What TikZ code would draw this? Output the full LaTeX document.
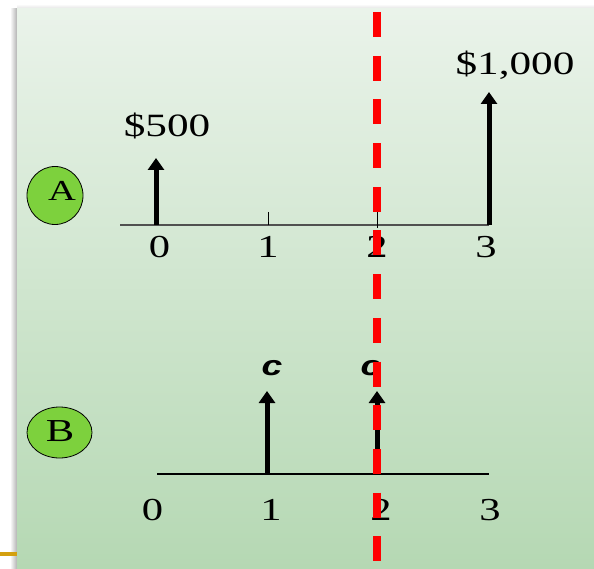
\documentclass[tikz,border=0pt]{standalone}
\usepackage{fontspec}
\usetikzlibrary{arrows.meta,shapes.geometric}
\newfontfamily\serifw[FakeStretch=1.33]{Liberation Serif}
\newfontfamily\sansw[FakeStretch=1.33]{Liberation Sans}
\definecolor{panelTop}{HTML}{EAF3EA}
\definecolor{panelBot}{HTML}{B5D8B3}
\definecolor{badge}{HTML}{7DD13D}
\definecolor{gold}{HTML}{D4A010}
\definecolor{axisA}{HTML}{505050}
\tikzset{
  cf/.style={line width=5pt, -{Triangle[width=16pt,length=12pt]}},
  num/.style={anchor=base, inner sep=0pt, font=\serifw\fontsize{32}{34}\selectfont},
  money/.style={anchor=base, inner sep=0pt, font=\serifw\fontsize{32.5}{36}\selectfont},
  clab/.style={anchor=base, inner sep=0pt, font=\sansw\bfseries\itshape\fontsize{28}{30}\selectfont},
  badgeA/.style={ellipse, draw=black, line width=0.8pt, fill=badge, inner sep=0pt},
  tick/.style={line width=1pt, black},
  redline/.style={draw=red, line width=8pt, dash pattern=on 25pt off 18.7pt}
}
\begin{document}
\begin{tikzpicture}[x=1pt,y=-1pt]
\useasboundingbox (0,0) rectangle (594,569);
% background
\fill[white] (0,0) rectangle (594,569);
\shade[left color=white, right color=black!30] (10,9) rectangle (17,569);
\shade[top color=white, bottom color=black!12] (17,4) rectangle (594,9);
\shade[top color=panelTop, bottom color=panelBot] (17,9) rectangle (594,569);
\fill[gold] (0,552) rectangle (17,556);
% badges
\node[badgeA, minimum width=56pt, minimum height=58pt] (A) at (55,195.5) {};
\node[anchor=base, inner sep=0pt, font=\serifw\fontsize{29}{31}\selectfont] (Alab) at (62,201) {A};
\node[badgeA, minimum width=65pt, minimum height=51pt] (B) at (59.5,432.5) {};
\node[anchor=base, inner sep=0pt, font=\serifw\fontsize{32}{34}\selectfont] (Blab) at (60,441) {B};
% timeline A
\coordinate (aL) at (120,225);
\coordinate (a0) at (156,225);
\coordinate (a1) at (268,225);
\coordinate (a2) at (377,225);
\coordinate (a3) at (489,225);
\coordinate (a0t) at (156,158);
\coordinate (a3t) at (489,92);
\coordinate (a1k) at (268,212);
\coordinate (a2k) at (377,212);
\coordinate (a2b) at (377,228);
\draw[axisA, line width=1.5pt] (aL) -- (a3);
\draw[tick] (a1k) -- (a1);
\draw[tick] (a2k) -- (a2b);
\draw[cf] (a0) -- (a0t);
\draw[cf] (a3) -- (a3t);
\node[money] (m500) at (167,137) {\$500};
\node[money] (m1000) at (515,75) {\$1,000};
\node[num] (la0) at (159.5,258) {0};
\node[num] (la1) at (268,258) {1};
\node[num] (la2) at (377,258) {2};
\node[num] (la3) at (486,258) {3};
% timeline B
\coordinate (bL) at (157,474);
\coordinate (bR) at (489,474);
\coordinate (b1) at (267,474);
\coordinate (b2) at (377,474);
\coordinate (b1t) at (267,391);
\coordinate (b2t) at (377,391);
\draw[black, line width=1.3pt] (bL) -- (bR);
\draw[cf] (b1) -- (b1t);
\draw[cf] (b2) -- (b2t);
\node[clab] (c1) at (272,375) {c};
\node[clab] (c2) at (371,375) {c};
\node[num] (lb0) at (152.5,520) {0};
\node[num] (lb1) at (271,520) {1};
\node[num] (lb2) at (381,520) {2};
\node[num] (lb3) at (490,520) {3};
% red dashed divider
\coordinate (rTop) at (377,12);
\coordinate (rBot) at (377,569);
\draw[redline] (rTop) -- (rBot);
\end{tikzpicture}
\end{document}
